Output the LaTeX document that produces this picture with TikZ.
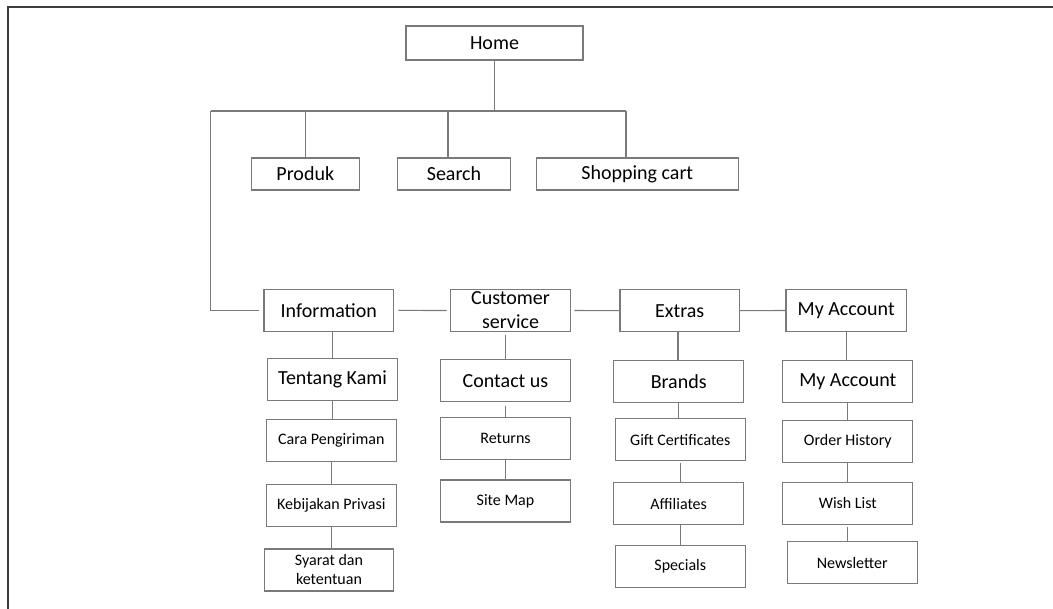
\documentclass[tikz,border=0pt]{standalone}
\usepackage{fontspec}
\setmainfont{Carlito}
\definecolor{boxgray}{HTML}{7A7A7A}
\definecolor{framegray}{HTML}{3C3C3C}
\tikzset{
  box/.style={draw=boxgray, line width=1.2pt, inner sep=0pt, align=center,
    minimum width=130pt, minimum height=42pt, fill=white},
  bigtext/.style={font=\fontsize{20}{24}\selectfont},
  smalltext/.style={font=\fontsize{16}{19}\selectfont},
  link/.style={draw=boxgray, line width=1.1pt},
  frameline/.style={draw=framegray, line width=2pt}
}
\begin{document}
\begin{tikzpicture}[x=1pt, y=-1pt]
\useasboundingbox (0,0) rectangle (1053,609);
% page frame (left and top edges)
\draw[frameline] (7.5,609) -- (7.5,6.7) -- (1053,6.7);

% top level
\node[box, bigtext, minimum width=177pt, minimum height=34pt] (home) at (494.5,43) {Home};
\node[box, bigtext, minimum width=108pt, minimum height=32pt] (produk) at (305.3,174) {Produk};
\node[box, bigtext, minimum width=113pt, minimum height=32pt] (search) at (454,174) {Search};
\node[box, bigtext, minimum width=202pt, minimum height=32pt] (cart) at (637.3,174) {Shopping cart};

% second level
\node[box, bigtext, minimum width=129.7pt] (info) at (328.8,310.4) {Information};
\node[box, bigtext, minimum width=120.4pt] (cs) at (510.5,310.5) {Customer\\service};
\node[box, bigtext, minimum width=119.3pt] (extras) at (679.7,310.7) {Extras};
\node[box, bigtext, minimum width=120.3pt] (acc) at (846.2,310.5) {My Account};

% information column
\node[box, bigtext] (tentang) at (332.5,379.5) {Tentang Kami};
\node[box, smalltext] (cara) at (331.3,440.5) {Cara Pengiriman};
\node[box, smalltext] (kebijakan) at (331.3,505.7) {Kebijakan Privasi};
\node[box, smalltext, minimum width=129.4pt] (syarat) at (329,570) {Syarat dan\\ketentuan};

% customer service column
\node[box, bigtext] (contact) at (505.5,380.8) {Contact us};
\node[box, smalltext] (returns) at (505.5,438.2) {Returns};
\node[box, smalltext] (sitemap) at (505.5,501) {Site Map};

% extras column
\node[box, bigtext] (brands) at (678.7,381.8) {Brands};
\node[box, smalltext] (gift) at (680.3,439.7) {Gift Certificates};
\node[box, smalltext] (affiliates) at (678.7,503.7) {Affiliates};
\node[box, smalltext] (specials) at (680.3,566.3) {Specials};

% account column
\node[box, bigtext] (acc2) at (847.8,381.3) {My Account};
\node[box, smalltext] (orders) at (847.8,441.2) {Order History};
\node[box, smalltext] (wish) at (847.8,503.3) {Wish List};
\node[box, smalltext] (news) at (852.2,562.7) {Newsletter};

% top bus
\coordinate (busL) at (210.7,111);
\coordinate (busR) at (626,111);
\draw[link] (home.south) -- (home.south |- busL);
\draw[link] (busL) -- (busR);
\draw[link] (produk.north) -- (produk.north |- busL);
\draw[link] ([xshift=-6pt]search.north) -- ([xshift=-6pt]search.north |- busL);
\draw[link] (busR) -- (busR |- cart.north);
\draw[link, shorten >=4pt] (busL) |- (info.west);

% second level chain
\draw[link, shorten <=4pt, shorten >=3pt] (info.east) -- (cs.west);
\draw[link, shorten <=3pt] (cs.east) -- (extras.west);
\draw[link] (extras.east) -- (acc.west);

% columns
\draw[link] (tentang.north) -- (tentang.north |- info.south);
\draw[link] (tentang.south) -- (tentang.south |- cara.north);
\draw[link] (cara.south) -- (cara.south |- kebijakan.north);
\draw[link] (kebijakan.south) -- (kebijakan.south |- syarat.north);

\draw[link, shorten >=3pt] (contact.north) -- (contact.north |- cs.south);
\draw[link, shorten <=4pt] (contact.south) -- (contact.south |- returns.north);
\draw[link] (returns.south) -- (returns.south |- sitemap.north);

\draw[link] ([xshift=-0.7pt]brands.north) -- ([xshift=-0.7pt]brands.north |- extras.south);
\draw[link] (brands.south) -- (brands.south |- gift.north);
\draw[link, shorten <=2pt] (gift.south) -- (gift.south |- affiliates.north);
\draw[link] ([xshift=2pt]affiliates.south) -- ([xshift=2pt]affiliates.south |- specials.north);

\draw[link] (acc.south) -- (acc.south |- acc2.north);
\draw[link] (acc2.south) -- (acc2.south |- orders.north);
\draw[link] (orders.south) -- (orders.south |- wish.north);
\draw[link, shorten <=2pt] (wish.south) -- (wish.south |- news.north);
\end{tikzpicture}
\end{document}
